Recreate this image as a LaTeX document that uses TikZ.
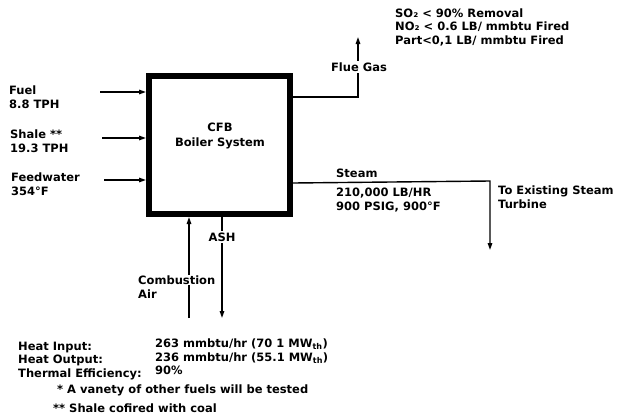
\documentclass[tikz,border=0pt]{standalone}
\usepackage{fontspec}
\setmainfont{DejaVu Sans}
\usetikzlibrary{arrows.meta}
\begin{document}
\begin{tikzpicture}[x=1pt,y=-1pt,
  every node/.style={font=\bfseries\fontsize{11.5}{13.5}\selectfont, inner sep=0pt},
  lbl/.style={anchor=west, align=left},
  cover/.style={fill=white, inner sep=1.5pt},
  boiler/.style={draw, line width=6pt, minimum width=141pt, minimum height=138pt},
  flow/.style={line width=1.4pt, -{Triangle[length=7pt,width=4.5pt]}},
  plain/.style={line width=1.4pt}]
\useasboundingbox (0,0) rectangle (621,418);
% boiler
\node[boiler] (box) at (219.5,145) {};
\node[align=center, font=\bfseries\fontsize{11.5}{15.5}\selectfont] (boxlabel) at (220,136) {CFB\\Boiler System};
% inputs
\node[lbl] (fuel) at (9,97) {Fuel\\8.8 TPH};
\node[lbl] (shale) at (10,141) {Shale **\\19.3 TPH};
\node[lbl] (feed) at (11,184) {Feedwater\\354\textdegree F};
\coordinate (fuelstart) at (100,92);
\coordinate (shalestart) at (102,138);
\coordinate (feedstart) at (104,180);
\draw[flow] (fuelstart) -- (fuelstart -| box.west);
\draw[flow] (shalestart) -- (shalestart -| box.west);
\draw[flow] (feedstart) -- (feedstart -| box.west);
% flue gas
\coordinate (flueout) at (290,97);
\coordinate (fluecorner) at (358,97);
\coordinate (flueend) at (358,37);
\draw[flow] (flueout -| box.east) -- (fluecorner) -- (flueend);
\node[cover] (flue) at (359,67) {Flue Gas};
\node[lbl] (emis) at (395,27) {SO₂ < 90\% Removal\\NO₂ < 0.6 LB/ mmbtu Fired\\Part<0,1 LB/ mmbtu Fired};
% steam
\coordinate (steamout) at (290,183);
\coordinate (steamcorner) at (490,181);
\coordinate (steamend) at (490,250);
\draw[flow] (steamout -| box.east) -- (steamcorner) -- (steamend);
\node[lbl] (steam) at (336,173) {Steam};
\node[lbl] (steamdata) at (336,200) {210,000 LB/HR\\900 PSIG, 900\textdegree F};
\node[lbl] (turbine) at (498,197) {To Existing Steam\\Turbine};
% combustion air
\coordinate (airstart) at (189,318);
\draw[flow] (airstart) -- (airstart |- box.south);
\node[cover, anchor=west, inner sep=0pt, inner ysep=1pt] (comb) at (138,280) {Combustion};
\node[anchor=west] (air) at (138,294) {Air};
% ash
\coordinate (ashtop) at (222,214);
\coordinate (ashend) at (222,318);
\draw[flow] (ashtop |- box.south) -- (ashend);
\node[cover] (ash) at (222,237) {ASH};
% heat data
\node[lbl] (heatlbl) at (18,361) {Heat Input:\\Heat Output:\\Thermal Efficiency:};
\node[lbl] (heatval) at (155,357) {263 mmbtu/hr (70 1 MW\textsubscript{th})\\236 mmbtu/hr (55.1 MW\textsubscript{th})\\90\%};
\node[lbl] (note1) at (57,390) {* A vanety of other fuels will be tested};
\node[lbl] (note2) at (53,408) {** Shale cofired with coal};
\end{tikzpicture}
\end{document}
